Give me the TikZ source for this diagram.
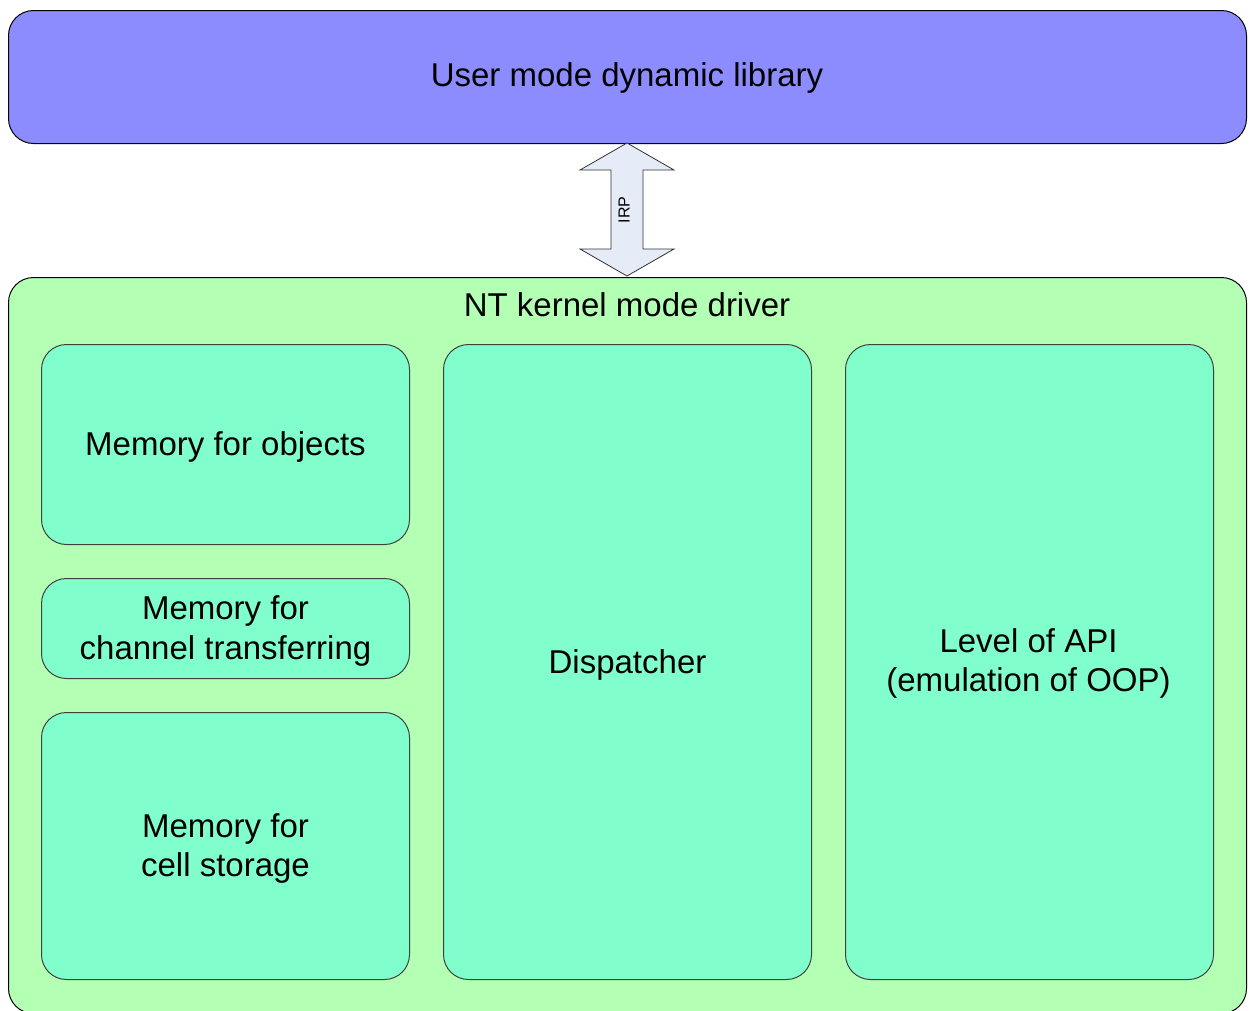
\documentclass[tikz,border=0pt]{standalone}
\usepackage{fontspec}
\setmainfont{Liberation Sans}
\definecolor{userblue}{RGB}{140,140,255}
\definecolor{kgreen}{RGB}{179,255,179}
\definecolor{boxgreen}{RGB}{128,255,204}
\definecolor{arrowfill}{RGB}{230,235,248}
\begin{document}
\begin{tikzpicture}[x=1pt,y=-1pt,
  bigbox/.style={draw=black, line width=1pt, rounded corners=25pt, anchor=north west, inner sep=0pt},
  inbox/.style={draw=black!75, fill=boxgreen, line width=1pt, rounded corners=25pt, anchor=north west, inner sep=0pt,
    minimum width=368pt},
  lbl/.style={font=\fontsize{33}{39.5}\selectfont, align=center, inner sep=0pt, yshift=-2.5pt}]
\useasboundingbox (0,0) rectangle (1252,1010);
% user mode box
\node[bigbox, fill=userblue, minimum width=1238pt, minimum height=133pt] (user) at (8,10) {};
\node[lbl] (usertxt) at (627,75) {User mode dynamic library};
% kernel box
\node[bigbox, fill=kgreen, minimum width=1238pt, minimum height=736pt] (kernel) at (8,277) {};
\node[lbl] (kerneltxt) at (627,302) {NT kernel mode driver};
% inner boxes
\node[inbox, minimum height=200pt] (objects) at (41,344) {};
\node[lbl] at (objects.center) {Memory for objects};
\node[inbox, minimum height=100pt] (channel) at (41,578) {};
\node[lbl] at (channel.center) {Memory for\\channel transferring};
\node[inbox, minimum height=267pt] (cell) at (41,712) {};
\node[lbl] at (cell.center) {Memory for\\cell storage};
\node[inbox, minimum height=635pt] (disp) at (443,344) {};
\node[lbl] at (disp.center) {Dispatcher};
\node[inbox, minimum height=635pt] (api) at (845,344) {};
\node[lbl] at ([xshift=-1pt,yshift=1pt]api.center) {Level of API\\(emulation of OOP)};
% IRP double arrow
\coordinate (atop) at (627,143);
\coordinate (abot) at (627,276);
\draw[draw=black!80, fill=arrowfill, line width=0.8pt, line join=miter]
  (atop) -- ++(47,27) -- ++(-31,0) -- ++(0,79) -- ++(31,0) -- (abot)
  -- ++(-47,-27) -- ++(31,0) -- ++(0,-79) -- ++(-31,0) -- cycle;
\node[font=\fontsize{16}{19}\selectfont, rotate=90, inner sep=0pt] (irp) at (624,210) {IRP};
\end{tikzpicture}
\end{document}
